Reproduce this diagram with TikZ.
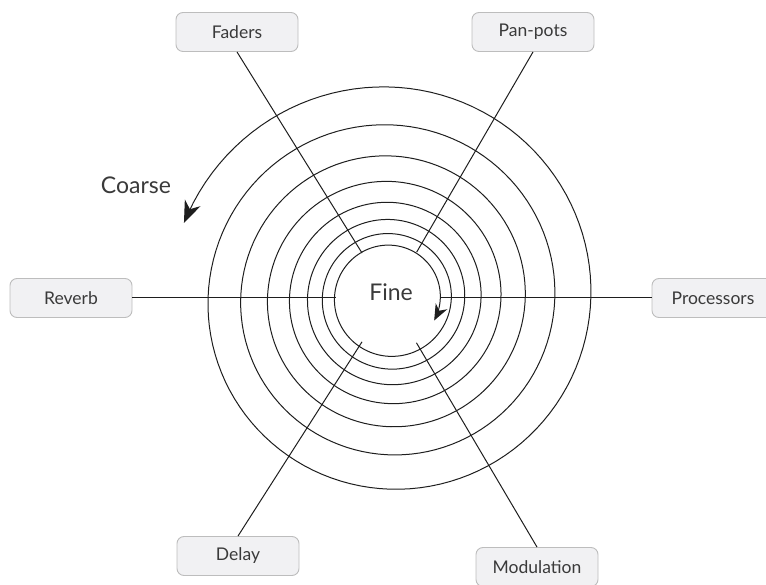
\documentclass[tikz,border=0pt]{standalone}
\usepackage{fontspec}
\setmainfont{Lato}
\usetikzlibrary{arrows.meta,calc,bending}
\definecolor{ink}{HTML}{3A3A3A}
\definecolor{wire}{HTML}{1E1E1E}
\definecolor{boxfill}{HTML}{F1F1F3}
\definecolor{boxline}{HTML}{BDBDBD}

\begin{document}
\begin{tikzpicture}[x=1pt,y=1pt,
  tag/.style={draw=boxline, fill=boxfill, line width=0.9pt, rounded corners=7pt,
    minimum width=122pt, minimum height=39pt, inner sep=0pt, text=ink,
    font=\fontsize{17.5}{20}\selectfont},
  caption/.style={text=ink, inner sep=0pt, font=\fontsize{23}{27}\selectfont},
  spoke/.style={draw=wire, line width=1pt},
]
\useasboundingbox (0,0) rectangle (766,584);
\coordinate (C) at (390,286);

% the six controls around the dial
\node[tag] (fad) at (237,552) {Faders};
\node[tag] (pan) at (533,552) {Pan-pots};
\node[tag] (rev) at (71,286) {Reverb};
\node[tag] (pro) at (713,286) {Processors};
\node[tag] (del) at (238,28) {Delay};
\node[tag] (mod) at (537,17) {Modulation};

% spokes running in to the innermost turn
\draw[spoke] (fad.south) -- ($(C)!53pt!(fad.south)$);
\draw[spoke] (pan.south) -- ($(C)!53pt!(pan.south)$);
\draw[spoke] (rev.east) -- ($(C)!54pt!(rev.east)$);
\draw[spoke] (pro.west) -- ($(C)!51pt!(pro.west)$);
\draw[spoke] (del.north) -- ($(C)!52pt!(del.north)$);
\draw[spoke] (mod.north) -- ($(C)!52pt!(mod.north)$);

% logarithmic spiral, coarse outside to fine inside
\draw[wire, line width=1pt,
  {Stealth[length=22pt,width=17pt,inset=7pt,bend]}-{Stealth[length=16pt,width=13pt,inset=5pt,bend]}]
  plot[domain=160:-2547, samples=900, variable=\t]
  ({390+211*exp(0.00055372*(\t-90))*cos(\t)}, {286+211*exp(0.00055372*(\t-90))*sin(\t)});

\node[caption] (coarse) at (136,399) {Coarse};
\node[caption] (fine) at (391,292) {Fine};
\end{tikzpicture}
\end{document}
